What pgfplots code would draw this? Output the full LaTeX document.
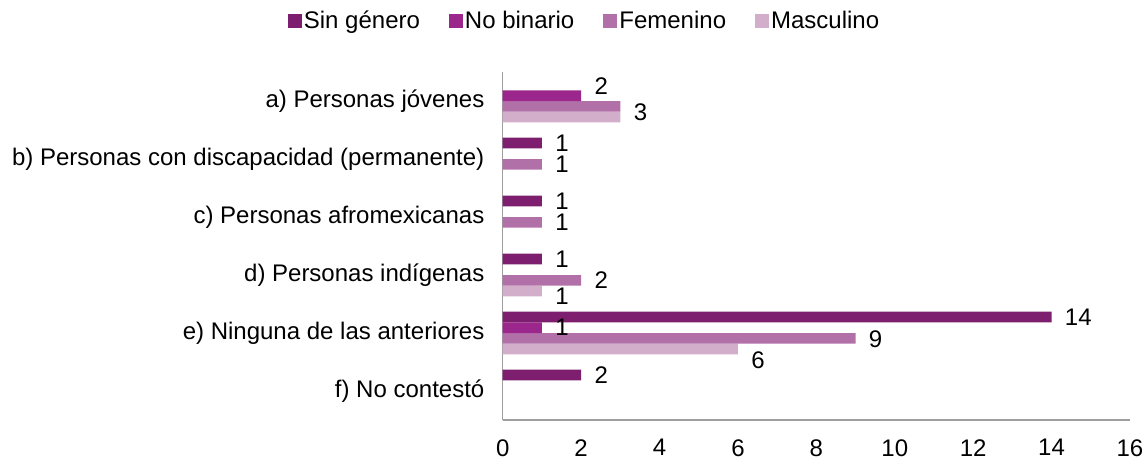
\documentclass[border=0pt]{standalone}
\usepackage{fontspec}
\setmainfont{Liberation Sans}
\usepackage{pgfplots}
\pgfplotsset{compat=1.18}
\usepackage{pgfplotstable}

\definecolor{cSin}{RGB}{125,30,110}
\definecolor{cNob}{RGB}{155,38,140}
\definecolor{cFem}{RGB}{178,112,168}
\definecolor{cMas}{RGB}{211,174,203}

% y = category index (0 = a, top), lbl = data label, dy = label shift (pt)
\pgfplotstableread{
y x lbl dy
1 1 1 0
2 1 1 0
3 1 1 0
4 14 14 0
5 2 2 0
}\sinGenero
\pgfplotstableread{
y x lbl dy
0 2 2 5
4 1 1 0
}\noBinario
\pgfplotstableread{
y x lbl dy
0 3 {} 0
1 1 1 0
2 1 1 0
3 2 2 0
4 9 9 -0.5
}\femenino
\pgfplotstableread{
y x lbl dy
0 3 3 2.5
3 1 1 -2.5
4 6 6 -5.5
}\masculino

\begin{document}
\begin{tikzpicture}
\begin{axis}[
  scale only axis,
  width=313.6pt, height=174pt,
  xbar=0pt, bar width=5.35pt,
  font=\fontsize{12}{14}\selectfont,
  /pgf/number format/assume math mode=true,
  xmin=0, xmax=16, xtick={0,2,...,16},
  ymin=-0.5, ymax=5.5, y dir=reverse,
  ytick={0,1,2,3,4,5},
  yticklabels={a) Personas jóvenes, b) Personas con discapacidad (permanente), c) Personas afromexicanas, d) Personas indígenas, e) Ninguna de las anteriores, f) No contestó},
  axis x line*=bottom, axis y line*=left,
  axis line style={draw=black!38, line width=0.75pt, -},
  major tick length=0pt,
  xticklabel style={inner sep=0pt, yshift=-9.5pt},
  yticklabel style={inner sep=0pt, xshift=-9pt},
  point meta=explicit symbolic,
  nodes near coords,
  visualization depends on={\thisrow{dy} \as \dy},
  every node near coord/.append style={anchor=west, inner sep=0pt, xshift=6.5pt, yshift=\dy pt, font=\fontsize{12}{14}\selectfont, text=black},
  legend columns=4,
  reverse legend,
  legend style={at={(0.132,1.147)}, anchor=center, draw=none, fill=none,
    font=\fontsize{12}{14}\selectfont, inner sep=0pt,
    /tikz/every even column/.append style={column sep=12.5pt},
    /tikz/every odd column/.append style={column sep=-1pt}},
  legend cell align=left,
]
% plotted bottom-up, so Masculino first
\addplot[fill=cMas, draw=none, legend image code/.code={\fill[cMas] (0pt,-3.4pt) rectangle (7pt,3.4pt);}]
  table[x=x, y=y, meta=lbl] {\masculino};
\addplot[fill=cFem, draw=none, legend image code/.code={\fill[cFem] (0pt,-3.4pt) rectangle (7pt,3.4pt);}]
  table[x=x, y=y, meta=lbl] {\femenino};
\addplot[fill=cNob, draw=none, legend image code/.code={\fill[cNob] (0pt,-3.4pt) rectangle (7pt,3.4pt);}]
  table[x=x, y=y, meta=lbl] {\noBinario};
\addplot[fill=cSin, draw=none, legend image code/.code={\fill[cSin] (0pt,-3.4pt) rectangle (7pt,3.4pt);}]
  table[x=x, y=y, meta=lbl] {\sinGenero};
\legend{Masculino, Femenino, No binario, Sin género}
\end{axis}
\pgfresetboundingbox
\path (current axis.south west) ++(-251.35pt,-22pt) coordinate (bbl)
      (current axis.north east) ++(8pt,36pt) coordinate (bbr);
\path (bbl) rectangle (bbr);
\end{tikzpicture}
\end{document}
